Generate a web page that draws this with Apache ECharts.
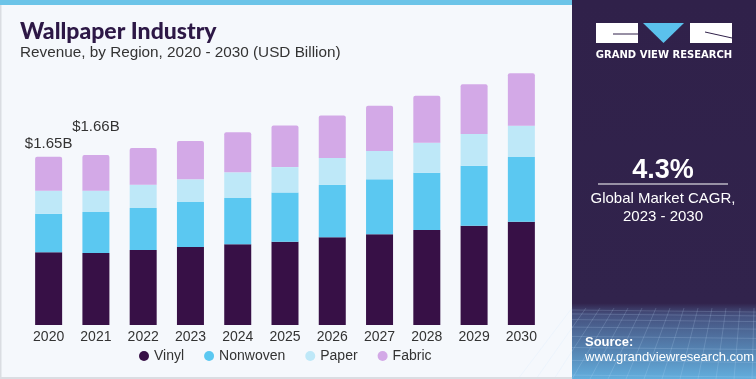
<!DOCTYPE html>
<html><head><meta charset="utf-8">
<script src="https://cdn.jsdelivr.net/npm/echarts@6/dist/echarts.min.js"></script>
<style>html,body{margin:0;padding:0;background:#fff}#c{width:756px;height:379px}</style>
</head><body><div id="c"></div>
<script>
var years = ['2020','2021','2022','2023','2024','2025','2026','2027','2028','2029','2030'];
var vinyl    = [0.713,0.706,0.735,0.765,0.791,0.817,0.860,0.889,0.931,0.974,1.013];
var nonwoven = [0.378,0.402,0.412,0.441,0.454,0.483,0.513,0.539,0.562,0.588,0.634];
var paper    = [0.225,0.209,0.229,0.222,0.252,0.248,0.265,0.278,0.294,0.311,0.307];
var fabric   = [0.333,0.350,0.360,0.376,0.392,0.409,0.415,0.444,0.461,0.487,0.513];
var totalLabels = ['$1.65B','$1.66B'];

var chart = echarts.init(document.getElementById('c'), null, {renderer:'canvas'});
var font = '"Liberation Sans", Arial, sans-serif';
var colors = {Vinyl:'#371046', Nonwoven:'#5BC8F1', Paper:'#BEE8F8', Fabric:'#D3A9E7'};

function mk(name, data, top) {
  var s = {
    name: name, type: 'bar', stack: 'total', barWidth: 27,
    data: data,
    itemStyle: {color: colors[name]},
    emphasis: {disabled: true}
  };
  if (top) {
    s.itemStyle.borderRadius = [2,2,0,0];
    s.data = data.map(function(v, i){
      if (i < totalLabels.length) {
        return {value: v, label: {show: true, position: 'top', formatter: totalLabels[i],
          offset: i === 0 ? [0, 0] : [0, -16],
          color: '#333', fontSize: 15, fontFamily: font}};
      }
      return v;
    });
  }
  return s;
}

// decorative mesh lines for the right panel footer
var mesh = [];
for (var k = 0; k < 14; k++) {
  var x0 = 572 + k * 14;
  mesh.push({type: 'line', shape: {x1: x0, y1: 308, x2: 572 + (k - 3) * 18, y2: 379},
    style: {stroke: 'rgba(200,225,255,0.18)', lineWidth: 1}, silent: true});
}
for (var j = 0; j < 9; j++) {
  var yy = 310 + j * j * 0.9 + j * 3;
  mesh.push({type: 'line', shape: {x1: 572, y1: yy, x2: 756, y2: yy + 2},
    style: {stroke: 'rgba(200,225,255,0.18)', lineWidth: 1}, silent: true});
}

chart.setOption({
  backgroundColor: '#F5F8FC',
  animation: false,
  grid: {left: 25, width: 520, top: 70, height: 255},
  xAxis: {type: 'category', data: years,
    axisLine: {show: false}, axisTick: {show: false},
    axisLabel: {color: '#333', fontSize: 14, fontFamily: font, margin: 5}},
  yAxis: {type: 'value', min: 0, max: 2.5, show: false, splitLine: {show: false}},
  legend: {left: 134, top: 344, icon: 'circle', itemWidth: 10, itemHeight: 10, itemGap: 20,
    textStyle: {color: '#333', fontSize: 14, fontFamily: font},
    data: ['Vinyl','Nonwoven','Paper','Fabric']},
  graphic: [
    {type: 'rect', shape: {x: 0, y: 0, width: 572, height: 5}, style: {fill: '#6CC4E8'}, z: 10},
    {type: 'rect', shape: {x: 0, y: 377, width: 572, height: 2}, style: {fill: '#DADDE2'}, z: 10},
    {type: 'rect', shape: {x: 0, y: 5, width: 1.5, height: 374}, style: {fill: '#DADDE2'}, z: 10},
    {type: 'text', left: 20, top: 20, style: {text: 'Wallpaper Industry', fill: '#2D1846',
      font: '900 23px Lato, "Open Sans", sans-serif'}},
    {type: 'text', left: 20, top: 45, style: {text: 'Revenue, by Region, 2020 - 2030 (USD Billion)', fill: '#333',
      font: '15.3px ' + font}},
    // right panel
    {type: 'rect', shape: {x: 572, y: 0, width: 184, height: 379},
      style: {fill: new echarts.graphic.LinearGradient(0, 0, 0, 1, [
        {offset: 0, color: '#30214A'}, {offset: 0.8, color: '#31234C'},
        {offset: 0.83, color: '#45507E'}, {offset: 1, color: '#63AEDD'}])}},
    {type: 'group', children: mesh},
    {type: 'rect', shape: {x: 596, y: 23, width: 42, height: 20}, style: {fill: '#fff'}},
    {type: 'polygon', shape: {points: [[643,23],[684,23],[663.5,43]]}, style: {fill: '#5BC1EC'}},
    {type: 'rect', shape: {x: 690, y: 23, width: 42, height: 20}, style: {fill: '#fff'}},
    {type: 'line', shape: {x1: 613, y1: 34, x2: 638, y2: 34}, style: {stroke: '#30214A', lineWidth: 1}},
    {type: 'line', shape: {x1: 705, y1: 32, x2: 732, y2: 38}, style: {stroke: '#30214A', lineWidth: 1}},
    {type: 'text', x: 664, y: 55, style: {text: 'GRAND VIEW RESEARCH', fill: '#fff', align: 'center', verticalAlign: 'middle',
      font: 'bold 10px "DejaVu Sans", sans-serif'}},
    {type: 'text', x: 663, y: 171, style: {text: '4.3%', fill: '#fff', align: 'center', verticalAlign: 'middle',
      font: 'bold 27px ' + font}},
    {type: 'rect', shape: {x: 598, y: 183.5, width: 130, height: 1}, style: {fill: '#fff'}},
    {type: 'text', x: 663, y: 199, style: {text: 'Global Market CAGR,', fill: '#fff', align: 'center', verticalAlign: 'middle',
      font: '15px ' + font}},
    {type: 'text', x: 663, y: 217, style: {text: '2023 - 2030', fill: '#fff', align: 'center', verticalAlign: 'middle',
      font: '15px ' + font}},
    {type: 'text', x: 585, y: 342, style: {text: 'Source:', fill: '#fff', verticalAlign: 'middle',
      font: 'bold 13px ' + font}},
    {type: 'text', x: 585, y: 357, style: {text: 'www.grandviewresearch.com', fill: '#fff', verticalAlign: 'middle',
      font: '13px ' + font}}
  ],
  series: [mk('Vinyl', vinyl), mk('Nonwoven', nonwoven), mk('Paper', paper), mk('Fabric', fabric, true)]
});
</script></body></html>
